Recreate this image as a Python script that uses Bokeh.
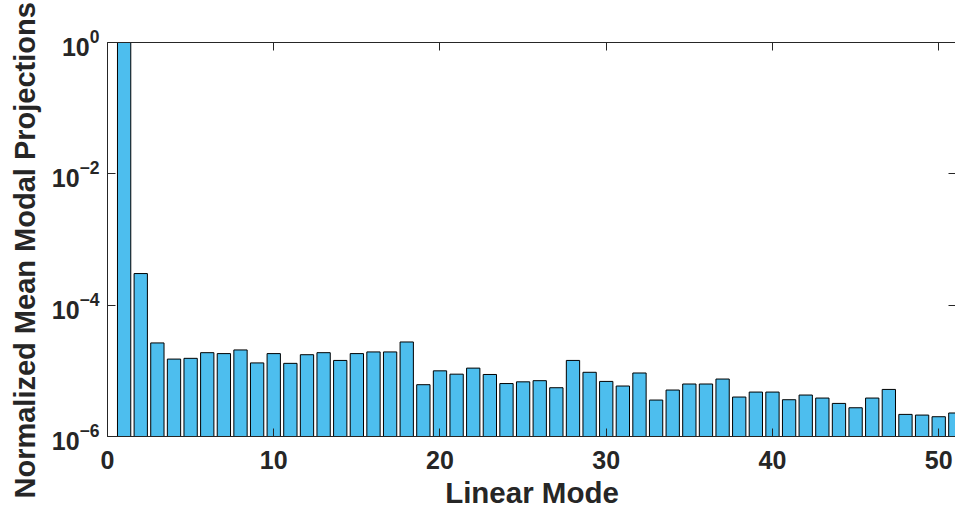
from bokeh.plotting import figure
from bokeh.models import (ColumnDataSource, FixedTicker, LinearAxis, LogAxis,
                          Range1d, Title, CustomJSTickFormatter)
from bokeh.embed import file_html
from bokeh.resources import INLINE

# ---- data ----
modes = list(range(1, 52))
projections = [
    1.0, 3.03e-4, 2.66e-5, 1.51e-5, 1.55e-5, 1.89e-5, 1.83e-5, 2.08e-5, 1.32e-5, 1.83e-5,
    1.30e-5, 1.76e-5, 1.89e-5, 1.44e-5, 1.83e-5, 1.94e-5, 1.94e-5, 2.75e-5, 6.15e-6, 1.0e-5,
    8.9e-6, 1.10e-5, 8.8e-6, 6.4e-6, 6.8e-6, 7.08e-6, 5.53e-6, 1.44e-5, 9.5e-6, 6.9e-6,
    5.87e-6, 9.27e-6, 3.59e-6, 5.1e-6, 6.3e-6, 6.3e-6, 7.5e-6, 3.99e-6, 4.75e-6, 4.75e-6,
    3.63e-6, 4.28e-6, 3.85e-6, 3.19e-6, 2.74e-6, 3.85e-6, 5.21e-6, 2.17e-6, 2.12e-6, 2.0e-6,
    2.28e-6,
]
x_ticks = [0, 10, 20, 30, 40, 50]
y_ticks = [1e-6, 1e-4, 1e-2, 1e0]
y_min = 1e-6
x_label = "Linear Mode"
y_label = "Normalized Mean Modal Projections"

TXT = "#262626"
FONT = "Liberation Sans"
BAR = "#4DBEEE"

src = ColumnDataSource(dict(x=modes, top=projections, bottom=[y_min] * len(modes)))

p = figure(width=955, height=510, frame_width=849, frame_height=394,
           y_axis_type="log", x_range=Range1d(0, 51.07), y_range=Range1d(1e-6, 1.0),
           output_backend="svg", toolbar_location=None,
           min_border_left=106, min_border_right=0, min_border_top=42, min_border_bottom=74)
p.outline_line_color = None
p.background_fill_color = "white"
p.border_fill_color = "white"
p.xgrid.visible = False
p.ygrid.visible = False

p.vbar(x="x", top="top", bottom="bottom", width=0.8, source=src,
       fill_color=BAR, line_color="#000000", line_width=1)

def style(ax):
    ax.axis_line_color = TXT
    ax.axis_line_width = 1
    ax.major_tick_line_color = TXT
    ax.major_tick_in = 8
    ax.major_tick_out = 0
    ax.minor_tick_line_color = None
    ax.major_label_text_font = FONT
    ax.major_label_text_font_style = "bold"
    ax.major_label_text_color = TXT
    ax.major_label_text_font_size = "25px"
    ax.axis_label_text_font = FONT
    ax.axis_label_text_font_style = "bold"
    ax.axis_label_text_color = TXT
    ax.axis_label_text_font_size = "29.5px"

xa = p.xaxis[0]
style(xa)
xa.ticker = FixedTicker(ticks=x_ticks)
xa.axis_label = x_label
xa.major_label_standoff = 14
xa.axis_label_standoff = 4

ya = p.yaxis[0]
style(ya)
ya.ticker = FixedTicker(ticks=y_ticks)
ya.major_label_standoff = 8

blank = CustomJSTickFormatter(code="return ''")

top = LinearAxis(ticker=FixedTicker(ticks=x_ticks), formatter=blank)
style(top)
top.major_label_standoff = 0
p.add_layout(top, "above")

right = LogAxis(ticker=FixedTicker(ticks=y_ticks), formatter=blank)
style(right)
right.axis_line_color = None
right.major_label_standoff = 0
p.add_layout(right, "right")

# y-axis title, placed like the reference (extends below the frame)
p.add_layout(Title(text=y_label, align="left", vertical_align="middle", offset=-62,
                   standoff=14, text_font=FONT, text_font_style="bold",
                   text_color=TXT, text_font_size="29px"), "left")

open("out.html", "w").write(file_html(p, INLINE))
